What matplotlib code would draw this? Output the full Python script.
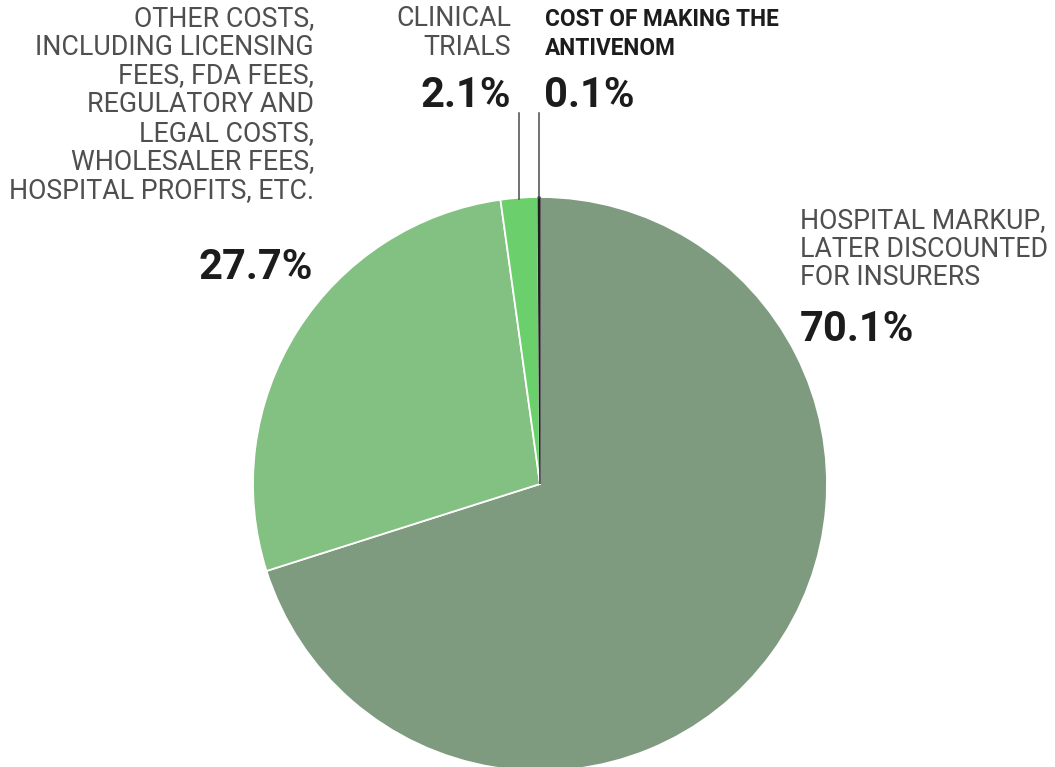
import numpy as np
import matplotlib.pyplot as plt

# cost breakdown of one vial of antivenom
shares = [70.1, 27.7, 2.1, 0.1]
pct_labels = ['70.1%', '27.7%', '2.1%', '0.1%']
colors = ['#7f9b7f', '#82c182', '#6bd06b', '#1e1e1e']

W, H = 1055, 767
CX, CY, R = 540, 484, 287   # pie centre / radius in pixels

fig = plt.figure(figsize=(W / 100, H / 100), dpi=100)
ax = fig.add_axes([0, 0, 1, 1])

wedges, _ = ax.pie(shares, colors=colors, startangle=90, counterclock=False,
                   radius=1, wedgeprops=dict(edgecolor='white', linewidth=1.3))
wedges[3].set_edgecolor('#1e1e1e')
wedges[3].set_linewidth(1.0)

# pie() resets the limits, so set them afterwards
ax.set_xlim(-CX / R, (W - CX) / R)
ax.set_ylim(-(H - CY) / R, CY / R)
ax.set_aspect('equal')
ax.axis('off')

FONT = ['Roboto', 'DejaVu Sans']
light = dict(family=FONT, fontsize=19.3, color='#4f4f4f', linespacing=1.08)
bold = dict(family=FONT, fontsize=30, color='#1c1c1c', fontweight='bold')
bold_small = dict(family=FONT, fontsize=16.3, color='#1c1c1c', fontweight='bold',
                  linespacing=1.35)


def px(x, y):
    return x / W, 1 - y / H


# leader lines for the two thin slices
for w in wedges[2:]:
    mid = np.deg2rad((w.theta1 + w.theta2) / 2)
    x = np.cos(mid)
    ax.plot([x, x], [np.sin(mid) * 0.995, (CY - 113) / R], color='#4a4a4a', lw=1.1)

fig.text(*px(314, 5), 'OTHER COSTS,\nINCLUDING LICENSING\nFEES, FDA FEES,\n'
         'REGULATORY AND\nLEGAL COSTS,\nWHOLESALER FEES,\nHOSPITAL PROFITS, ETC.',
         ha='right', va='top', **light)
fig.text(*px(313, 279), pct_labels[1], ha='right', va='baseline', **bold)

fig.text(*px(511, 5), 'CLINICAL\nTRIALS', ha='right', va='top', **light)
fig.text(*px(511, 107), pct_labels[2], ha='right', va='baseline', **bold)

fig.text(*px(545, 8), 'COST OF MAKING THE\nANTIVENOM', ha='left', va='top', **bold_small)
fig.text(*px(544, 107), pct_labels[3], ha='left', va='baseline', **bold)

fig.text(*px(800, 207), 'HOSPITAL MARKUP,\nLATER DISCOUNTED\nFOR INSURERS',
         ha='left', va='top', **light)
fig.text(*px(800, 341), pct_labels[0], ha='left', va='baseline', **bold)

fig.savefig('out.png', dpi=100, facecolor='white')
